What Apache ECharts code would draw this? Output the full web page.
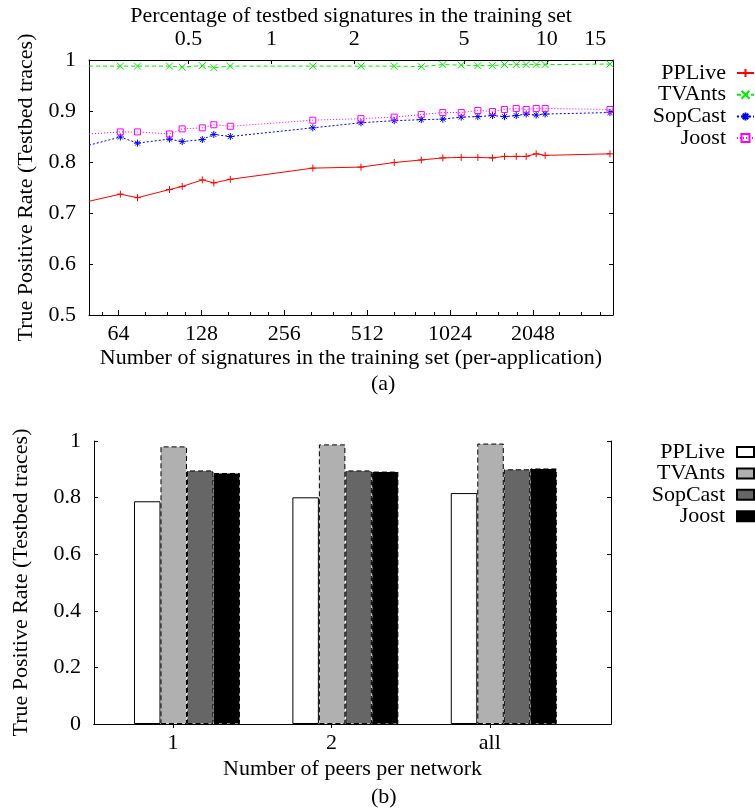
<!DOCTYPE html>
<html><head><meta charset="utf-8">
<script src="https://cdn.jsdelivr.net/npm/echarts@6/dist/echarts.min.js"></script>
<style>html,body{margin:0;padding:0;background:#fff}#c{width:755px;height:810px}</style>
</head><body><div id="c"></div>
<script>
// ---------- data: chart (a) ----------
const N_SIG = [50, 65, 75, 98, 109, 129, 142, 163, 325, 486, 642, 805, 964, 1124, 1292, 1460, 1615, 1781, 1935, 2104, 2268, 3900];
const PPLIVE_A  = [0.723,0.737,0.730,0.746,0.752,0.765,0.759,0.766,0.788,0.790,0.799,0.804,0.808,0.809,0.809,0.808,0.811,0.811,0.811,0.816,0.813,0.816];
const TVANTS_A  = [0.988,0.988,0.988,0.988,0.986,0.989,0.985,0.988,0.988,0.988,0.988,0.987,0.991,0.990,0.989,0.989,0.991,0.991,0.991,0.991,0.991,0.992];
const SOPCAST_A = [0.833,0.849,0.837,0.845,0.840,0.844,0.854,0.850,0.867,0.877,0.881,0.883,0.884,0.888,0.889,0.891,0.889,0.891,0.894,0.892,0.894,0.897];
const JOOST_A   = [0.855,0.859,0.859,0.855,0.865,0.867,0.873,0.870,0.882,0.885,0.888,0.893,0.897,0.897,0.901,0.899,0.903,0.905,0.903,0.905,0.905,0.903];
const SIG_TICKS = [64, 128, 256, 512, 1024, 2048];
const SIG_MINOR = [56, 80, 96, 112, 160, 192, 224, 320, 384, 448, 640, 768, 896, 1280, 1536, 1792, 2560, 3072, 3584];
const PCT_TICKS = [0.5, 1, 2, 5, 10, 15];
const TOTAL_SIG = 23000;
const SIG_MIN = 50, SIG_MAX = 4000;

// ---------- data: chart (b) ----------
const PEERS = ['1', '2', 'all'];
const PPLIVE_B  = [0.787, 0.801, 0.816];
const TVANTS_B  = [0.981, 0.988, 0.991];
const SOPCAST_B = [0.896, 0.896, 0.900];
const JOOST_B   = [0.887, 0.892, 0.903];
const APPS = ['PPLive', 'TVAnts', 'SopCast', 'Joost'];

const FONT = 'Liberation Serif';
const FS = 22;
const txt = {fontFamily: FONT, fontSize: FS, color: '#000'};
const axLine = {show: true, lineStyle: {color: '#000', width: 1}};
const yFmt = v => (Math.abs(v - 1) < 1e-9 ? '1' : (Math.abs(v) < 1e-9 ? '0' : v.toFixed(1)));

const chart = echarts.init(document.getElementById('c'), null, {renderer: 'canvas'});

function lineSeries(name, vals, color, type, symbol, size) {
  return {
    type: 'line', name, xAxisIndex: 0, yAxisIndex: 0,
    data: N_SIG.map((n, i) => i === 0 ? {value: [n, vals[i]], symbol: 'none'} : [n, vals[i]]),
    symbol, symbolSize: size, showSymbol: true, clip: true,
    lineStyle: {color, width: 1, type},
    itemStyle: {color: 'none', borderColor: color, borderWidth: 1},
    emphasis: {disabled: true}, animation: false
  };
}
function barSeries(name, vals, fill, dashed) {
  return {
    type: 'bar', name: name + '#b', xAxisIndex: 3, yAxisIndex: 2,
    data: vals.map((v, i) => [i + 1, v]),
    barWidth: 26.5, barGap: '0%',
    itemStyle: {color: fill, borderColor: '#000', borderWidth: 1, borderType: dashed ? [5, 3] : 'solid'},
    emphasis: {disabled: true}, animation: false
  };
}

const PLUS = 'path://M5,0L5,10M0,5L10,5';
const CROSS = 'path://M0,0L10,10M10,0L0,10';
const STAR = 'path://M5,0L5,10M0,5L10,5M1.5,1.5L8.5,8.5M8.5,1.5L1.5,8.5';

const option = {
  backgroundColor: '#fff',
  animation: false,
  textStyle: {fontFamily: FONT},
  grid: [
    {left: 89, top: 60, width: 524, height: 255},
    {left: 94, top: 441, width: 517, height: 283}
  ],
  xAxis: [
    { // 0: signatures (log2)
      gridIndex: 0, type: 'log', logBase: 2, min: SIG_MIN, max: SIG_MAX, position: 'bottom',
      axisLine: axLine, splitLine: {show: false},
      axisTick: {inside: true, length: 5, customValues: SIG_TICKS, lineStyle: {color: '#000'}},
      axisLabel: Object.assign({margin: 8, customValues: SIG_TICKS, formatter: v => String(Math.round(v))}, txt),
      name: 'Number of signatures in the training set (per-application)', nameLocation: 'middle', nameGap: 32,
      nameTextStyle: txt
    },
    { // 1: percentage (top)
      gridIndex: 0, type: 'log', logBase: 2, min: SIG_MIN / TOTAL_SIG * 100, max: SIG_MAX / TOTAL_SIG * 100, position: 'top',
      axisLine: axLine, splitLine: {show: false},
      axisTick: {inside: true, length: 4, customValues: PCT_TICKS, lineStyle: {color: '#000'}},
      axisLabel: Object.assign({margin: 10, customValues: PCT_TICKS, formatter: v => String(v)}, txt),
      name: 'Percentage of testbed signatures in the training set', nameLocation: 'middle', nameGap: 32,
      nameTextStyle: txt
    },
    { // 2: minor ticks
      gridIndex: 0, type: 'log', logBase: 2, min: SIG_MIN, max: SIG_MAX, position: 'bottom',
      axisLine: {show: false}, splitLine: {show: false}, axisLabel: {show: false},
      axisTick: {inside: true, length: 3, customValues: SIG_MINOR, lineStyle: {color: '#000'}}
    },
    { // 3: peers (bottom chart)
      gridIndex: 1, type: 'value', min: 0.413, max: 3.677, position: 'bottom',
      axisLine: axLine, splitLine: {show: false},
      axisTick: {inside: true, length: 4, customValues: [0.912, 1.912, 2.912], lineStyle: {color: '#000'}},
      axisLabel: Object.assign({margin: 8, customValues: [0.912, 1.912, 2.912], formatter: v => PEERS[Math.round(v) - 1]}, txt),
      name: 'Number of peers per network', nameLocation: 'middle', nameGap: 34,
      nameTextStyle: txt
    },
    { // 4: mirror top
      gridIndex: 1, type: 'value', min: 0.413, max: 3.677, position: 'top',
      axisLine: axLine, splitLine: {show: false}, axisLabel: {show: false},
      axisTick: {inside: true, length: 4, customValues: [0.912, 1.912, 2.912], lineStyle: {color: '#000'}}
    }
  ],
  yAxis: [
    {
      gridIndex: 0, type: 'value', min: 0.5, max: 1, interval: 0.1, position: 'left',
      axisLine: axLine, splitLine: {show: false},
      axisTick: {inside: true, length: 4, lineStyle: {color: '#000'}},
      axisLabel: Object.assign({margin: 13, formatter: yFmt}, txt),
      name: 'True Positive Rate (Testbed traces)', nameLocation: 'middle', nameGap: 52, nameRotate: 90,
      nameTextStyle: txt
    },
    {
      gridIndex: 0, type: 'value', min: 0.5, max: 1, interval: 0.1, position: 'right',
      axisLine: axLine, splitLine: {show: false}, axisLabel: {show: false},
      axisTick: {inside: true, length: 4, lineStyle: {color: '#000'}}
    },
    {
      gridIndex: 1, type: 'value', min: 0, max: 1, interval: 0.2, position: 'left',
      axisLine: axLine, splitLine: {show: false},
      axisTick: {inside: true, length: 4, lineStyle: {color: '#000'}},
      axisLabel: Object.assign({margin: 13, formatter: yFmt}, txt),
      name: 'True Positive Rate (Testbed traces)', nameLocation: 'middle', nameGap: 62, nameRotate: 90,
      nameTextStyle: txt
    },
    {
      gridIndex: 1, type: 'value', min: 0, max: 1, interval: 0.2, position: 'right',
      axisLine: axLine, splitLine: {show: false}, axisLabel: {show: false},
      axisTick: {inside: true, length: 4, lineStyle: {color: '#000'}}
    }
  ],
  legend: [
    {
      data: APPS, orient: 'vertical', align: 'right', right: 0, top: 62, padding: 0,
      itemWidth: 17, itemHeight: 10, itemGap: -0.3, selectedMode: false,
      textStyle: Object.assign({lineHeight: 19, padding: [0, 6, 0, 0]}, txt)
    },
    {
      data: APPS.map(a => ({name: a + '#b', icon: 'rect'})), orient: 'vertical', align: 'right', right: 0, top: 441, padding: 0,
      itemWidth: 17, itemHeight: 10, itemGap: -0.6, selectedMode: false,
      formatter: n => n.replace('#b', ''),
      textStyle: Object.assign({lineHeight: 19, padding: [0, 7, 0, 0]}, txt)
    }
  ],
  graphic: [
    {type: 'text', left: 371, top: 373, style: {text: '(a)', font: FS + 'px "' + FONT + '"', fill: '#000'}},
    {type: 'text', left: 371, top: 786, style: {text: '(b)', font: FS + 'px "' + FONT + '"', fill: '#000'}}
  ],
  series: [
    lineSeries('PPLive', PPLIVE_A, '#ff0000', 'solid', PLUS, 7),
    lineSeries('TVAnts', TVANTS_A, '#00ee00', [4, 3], CROSS, 7),
    lineSeries('SopCast', SOPCAST_A, '#0000ff', [2, 2], STAR, 7),
    lineSeries('Joost', JOOST_A, '#ff00ff', [1, 2], 'rect', 6),
    barSeries('PPLive', PPLIVE_B, '#ffffff', false),
    barSeries('TVAnts', TVANTS_B, '#b0b0b0', true),
    barSeries('SopCast', SOPCAST_B, '#666666', true),
    barSeries('Joost', JOOST_B, '#000000', true)
  ]
};
chart.setOption(option);
</script></body></html>
